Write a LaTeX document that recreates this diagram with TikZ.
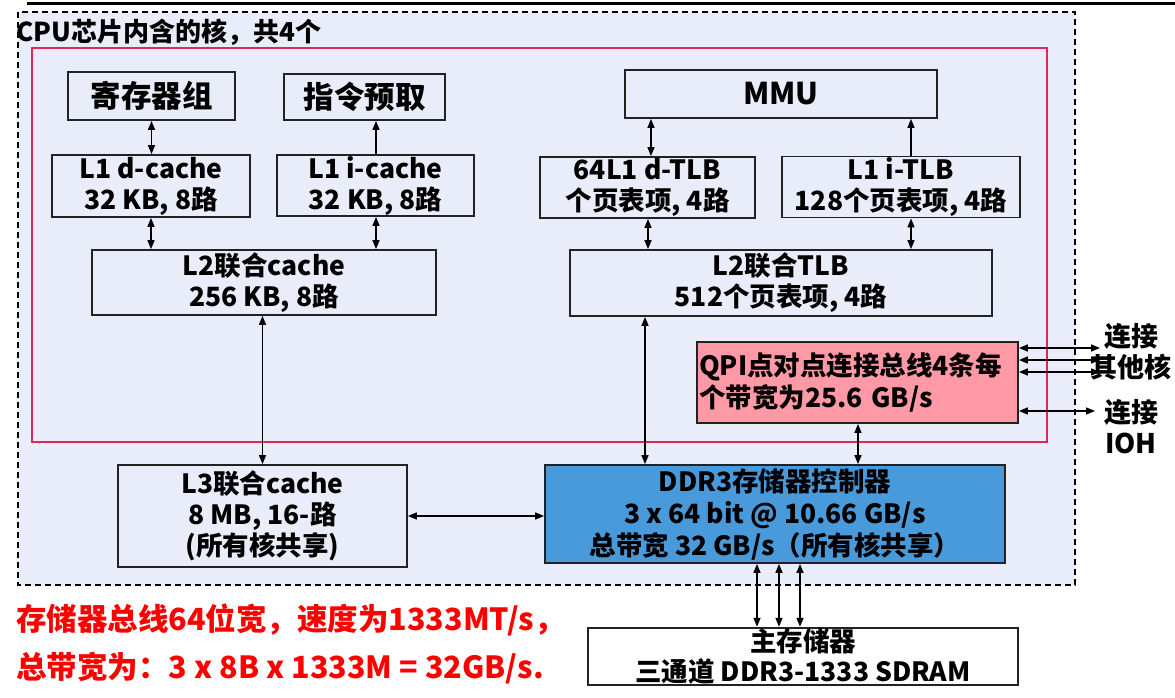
\documentclass[tikz,border=0pt]{standalone}
\usepackage{fontspec}
\setmainfont{Noto Sans CJK SC}
\usetikzlibrary{arrows.meta,calc}
\definecolor{bgblue}{RGB}{232,237,249}
\definecolor{corered}{RGB}{226,40,82}
\definecolor{qpipink}{RGB}{255,153,166}
\definecolor{ddrblue}{RGB}{72,154,218}
\definecolor{boxline}{RGB}{34,34,34}
\tikzset{
  box/.style={draw=boxline, line width=1.8pt, inner sep=1pt, align=center,
    font=\bfseries\fontsize{26.5}{31}\selectfont},
  dbl/.style={{Triangle[length=9pt,width=7pt]}-{Triangle[length=9pt,width=7pt]}, line width=1.5pt, draw=black},
  sgl/.style={-{Triangle[length=9pt,width=7pt]}, line width=1.5pt, draw=black},
  lbl/.style={font=\bfseries\fontsize{27}{31}\selectfont, align=center, inner sep=0pt},
  redtxt/.style={font=\bfseries\fontsize{30.5}{32}\selectfont, text=red, anchor=west, inner sep=0pt}
}
\begin{document}
\begin{tikzpicture}[x=1pt,y=-1pt]
\useasboundingbox (0,0) rectangle (1175,697);
% top rule
\draw[line width=3pt] (27,3) -- (1175,3);
% outer dashed chip box
\draw[dashed, dash pattern=on 6pt off 4pt, line width=1.2pt, fill=bgblue] (18,12) rectangle (1075,585);
\node[font=\bfseries\fontsize{26}{28}\selectfont, anchor=west, inner sep=0pt] (title) at (16,32) {CPU芯片内含的核，共4个};
% red core box
\draw[corered, line width=1.4pt] (32,48) rectangle (1047,442);

% left column
\node[box, minimum width=167pt, minimum height=48pt, font=\bfseries\fontsize{30.5}{32}\selectfont] (regs) at (151.5,96) {寄存器组};
\node[box, minimum width=161pt, minimum height=46pt, font=\bfseries\fontsize{30.5}{32}\selectfont] (ifetch) at (364.5,97) {指令预取};
\node[box, minimum width=198pt, minimum height=62pt] (l1d) at (151,186) {L1 d-cache\\32 KB, 8路};
\node[box, minimum width=197pt, minimum height=61pt] (l1i) at (375.5,185.5) {L1 i-cache\\32 KB, 8路};
\node[box, minimum width=344pt, minimum height=65pt] (l2c) at (264,282.5) {L2联合cache\\256 KB, 8路};
\node[box, minimum width=289pt, minimum height=102pt] (l3c) at (262.5,516) {L3联合cache\\8 MB, 16-路\\(所有核共享)};

% right column
\node[box, minimum width=312pt, minimum height=48pt, font=\bfseries\fontsize{30}{32}\selectfont] (mmu) at (781,94) {MMU};
\node[box, minimum width=215pt, minimum height=61pt] (dtlb) at (647.5,187.5) {64L1 d-TLB\\个页表项, 4路};
\node[box, minimum width=238pt, minimum height=60pt] (itlb) at (901,187) {L1 i-TLB\\128个页表项, 4路};
\node[box, minimum width=422pt, minimum height=66pt] (l2tlb) at (781,283) {L2联合TLB\\512个页表项, 4路};
\node[box, fill=qpipink, minimum width=321pt, minimum height=81pt, align=left, text width=317pt, font=\bfseries\fontsize{26.5}{32}\selectfont] (qpi) at (857.5,382.5) {QPI点对点连接总线4条每\\个带宽为25.6 GB/s};
\node[box, fill=ddrblue, minimum width=460pt, minimum height=98pt, font=\bfseries\fontsize{26.5}{32}\selectfont] (ddr) at (775,514) {DDR3存储器控制器\\3 x 64 bit @ 10.66 GB/s\\总带宽 32 GB/s（所有核共享）};
\node[box, fill=white, minimum width=430pt, minimum height=53pt, font=\bfseries\fontsize{26.5}{30}\selectfont] (mem) at (803,656.5) {主存储器\\三通道 DDR3-1333 SDRAM};

% right-side labels
\node[lbl] (other) at (1131,352) {连接\\其他核};
\node[lbl] (ioh) at (1131,427) {连接\\IOH};

% red notes
\node[redtxt] (note1) at (16,620) {存储器总线64位宽，速度为1333MT/s，};
\node[redtxt] (note2) at (16,668) {总带宽为：3 x 8B x 1333M = 32GB/s.};

% coordinates for offset connectors
\coordinate (xa) at (645,0);
\coordinate (xq) at (858,0);
\coordinate (xm1) at (757,0);
\coordinate (xm2) at (779,0);
\coordinate (xm3) at (800,0);
\coordinate (xdt) at (651,0);
\coordinate (xdb) at (648,0);
\coordinate (xit) at (911,0);
\coordinate (xli) at (376,0);
\coordinate (q1) at (1100,348);
\coordinate (q2) at (1100,360);
\coordinate (q3) at (1100,372);
\coordinate (q4) at (1095,411);

% connectors left
\draw[dbl] (regs.south) -- (regs.south |- l1d.north);
\draw[sgl] (l1i.north -| xli) -- (ifetch.south -| xli);
\draw[dbl] (l1d.south) -- (l1d.south |- l2c.north);
\draw[dbl] (l1i.south -| xli) -- (l2c.north -| xli);
\draw[dbl] (l2c.south -| l3c.north) -- (l3c.north);
\draw[dbl] (l3c.east) -- (l3c.east -| ddr.west);

% connectors right
\draw[dbl] (mmu.south -| xdt) -- (dtlb.north -| xdt);
\draw[sgl] (itlb.north -| xit) -- (mmu.south -| xit);
\draw[dbl] (dtlb.south -| xdb) -- (l2tlb.north -| xdb);
\draw[dbl] (itlb.south -| xit) -- (l2tlb.north -| xit);
\draw[dbl] (l2tlb.south -| xa) -- (ddr.north -| xa);
\draw[dbl] (qpi.south -| xq) -- (ddr.north -| xq);
\draw[dbl] (ddr.south -| xm1) -- (mem.north -| xm1);
\draw[dbl] (ddr.south -| xm2) -- (mem.north -| xm2);
\draw[dbl] (ddr.south -| xm3) -- (mem.north -| xm3);
\draw[dbl] (qpi.east |- q1) -- (q1);
\draw[dbl] (qpi.east |- q2) -- (q2);
\draw[dbl] (qpi.east |- q3) -- (q3);
\draw[dbl] (qpi.east |- q4) -- (q4);
\end{tikzpicture}
\end{document}
